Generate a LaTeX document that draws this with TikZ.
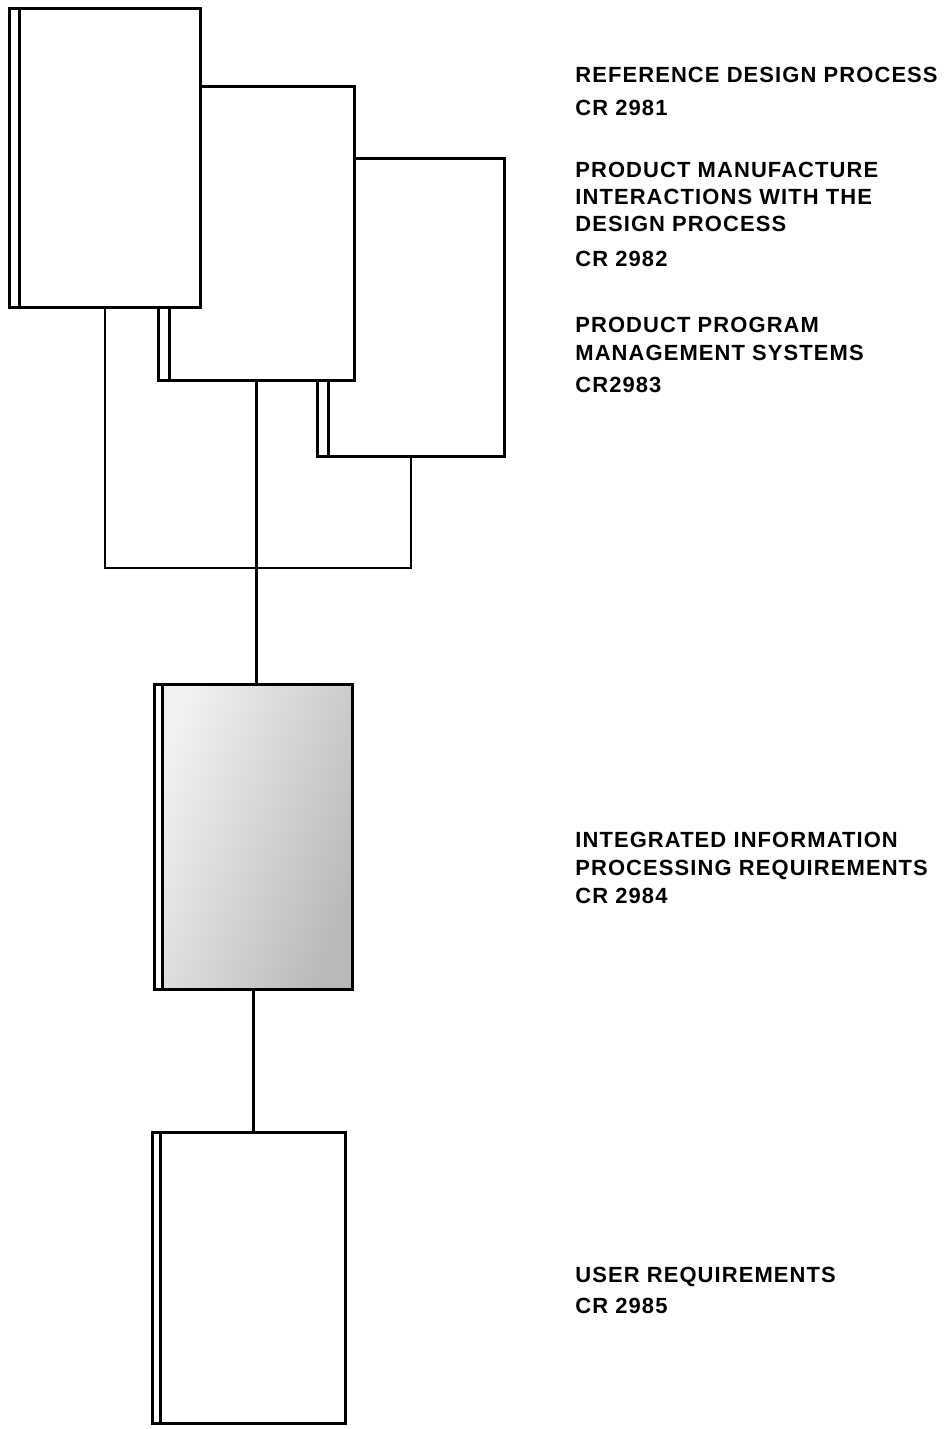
\documentclass[tikz,border=0pt]{standalone}
\usepackage{fontspec}
\setmainfont[LetterSpace=5]{Liberation Sans}
\usetikzlibrary{positioning}

\begin{document}
\begin{tikzpicture}[
  x=0.02cm, y=-0.02cm,
  book/.style={
    draw,
    line width=1.7pt,
    fill=white,
    inner sep=0pt,
    path picture={
      \fill[white] (path picture bounding box.north west)
        rectangle ([xshift=#1]path picture bounding box.south west);
      \draw[line width=1.7pt] ([xshift=#1]path picture bounding box.north west)
        -- ([xshift=#1]path picture bounding box.south west);
    }
  },
  book/.default=0.2cm,
  link/.style={line width=1.3pt},
  captext/.style={
    anchor=base west,
    align=left,
    inner sep=0pt,
    font=\fontsize{12.5}{15.65}\selectfont\bfseries
  }
]
\useasboundingbox (0,0) rectangle (946,1429);

% Books (back to front)
\node[book=0.22cm, minimum width=3.76cm, minimum height=5.98cm] (b3) at (411,307.5) {};
\node[book=0.22cm, minimum width=3.94cm, minimum height=5.9cm] (b2) at (256.5,233.5) {};
\node[book, minimum width=3.84cm, minimum height=6cm] (b1) at (105,158) {};
\node[book=0.15cm, minimum width=3.96cm, minimum height=6.12cm,
      left color=gray!10, right color=gray!55, shading angle=70] (b4) at (253.5,837) {};
\node[book=0.17cm, minimum width=3.88cm, minimum height=5.84cm] (b5) at (249,1278) {};

% Connections
\coordinate (j) at (255,568);
\draw[link] (b1.south) |- (j) -| (b3.south);
\draw[link] (b2.south) -- (b2.south |- b4.north);
\draw[link] (b4.south) -- (b4.south |- b5.north);

% Captions (base = last line)
\node[captext] (t1) at (575,83) {REFERENCE DESIGN PROCESS};
\node[captext] (c1) at (575,116) {CR 2981};
\node[captext] (t2) at (575,232) {PRODUCT MANUFACTURE\\INTERACTIONS WITH THE\\DESIGN PROCESS};
\node[captext] (c2) at (575,267) {CR 2982};
\node[captext] (t3) at (575,360) {PRODUCT PROGRAM\\MANAGEMENT SYSTEMS};
\node[captext] (c3) at (575,392) {CR2983};
\node[captext] (t4) at (575,875) {INTEGRATED INFORMATION\\PROCESSING REQUIREMENTS};
\node[captext] (c4) at (575,903) {CR 2984};
\node[captext] (t5) at (575,1282) {USER REQUIREMENTS};
\node[captext] (c5) at (575,1313) {CR 2985};

\end{tikzpicture}
\end{document}
